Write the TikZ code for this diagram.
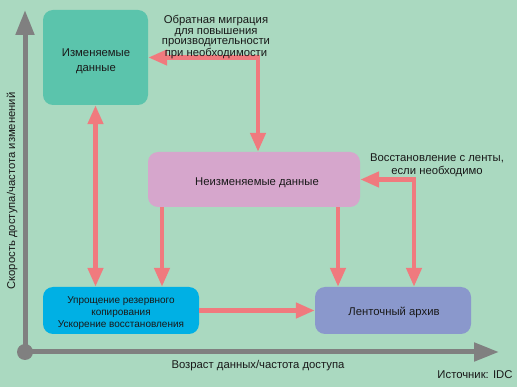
\documentclass[tikz,border=0pt]{standalone}
\usepackage{fontspec}
\setmainfont{Liberation Sans}
\usetikzlibrary{arrows.meta}
\definecolor{bg}{RGB}{170,217,192}
\definecolor{redar}{RGB}{240,122,126}
\definecolor{tealbox}{RGB}{91,196,172}
\definecolor{lilacbox}{RGB}{214,166,204}
\definecolor{cyanbox}{RGB}{0,176,228}
\definecolor{perbox}{RGB}{138,152,204}
\definecolor{axisgray}{RGB}{128,128,128}
\definecolor{txt}{RGB}{25,25,25}
\tikzset{
  box/.style={rounded corners=10pt, inner sep=0pt},
  redarrow/.style={draw=redar, line width=4.5pt,
    arrows={-Triangle[width=15pt,length=19pt]}},
  redboth/.style={draw=redar, line width=4.5pt,
    arrows={Triangle[width=15pt,length=19pt]-Triangle[width=15pt,length=19pt]}},
  axisline/.style={draw=axisgray, line width=5pt,
    arrows={-Triangle[width=18pt,length=25pt]}},
  lbl/.style={text=txt, align=center, inner sep=0pt,
    font=\fontsize{11.3}{13}\selectfont}
}
\begin{document}
\begin{tikzpicture}[x=1pt,y=-1pt]
\useasboundingbox (0,0) rectangle (517,387);
\fill[bg] (0,0) rectangle (517,387);
% axes
\coordinate (o) at (25,352);
\coordinate (ytop) at (25,10);
\coordinate (xend) at (499,352);
\draw[axisline] (o) -- (ytop);
\draw[axisline] (o) -- (xend);
\fill[axisgray] (o) circle (8);
% boxes
\node[box, fill=tealbox, minimum width=105pt, minimum height=95pt] (izm) at (95.5,57.5) {};
\node[box, fill=lilacbox, minimum width=212pt, minimum height=55pt] (neizm) at (254,179.5) {};
\node[box, fill=cyanbox, minimum width=156pt, minimum height=47pt] (upr) at (121,310.5) {};
\node[box, fill=perbox, minimum width=156pt, minimum height=47pt] (lent) at (393,310.5) {};
% box texts
\node[lbl, font=\fontsize{11.3}{15}\selectfont] (izmt) at (96,61) {Изменяемые\\данные};
\node[lbl] (neizmt) at (257,183) {Неизменяемые данные};
\node[lbl, font=\fontsize{10}{12.3}\selectfont] (uprt) at (121,313) {Упрощение резервного\\копирования\\Ускорение восстановления};
\node[lbl] (lentt) at (394,312.5) {Ленточный архив};
% helper x positions
\coordinate (c1) at (162,0);
\coordinate (c2) at (338,0);
\coordinate (c4) at (414,0);
\coordinate (c6) at (258,0);
% arrows
\draw[redboth] (izm.south) -- (upr.north -| izm.south);
\draw[redarrow] (neizm.south -| c1) -- (upr.north -| c1);
\draw[redarrow] (upr.east) -- (lent.west);
\draw[redarrow] (neizm.south -| c2) -- (lent.north -| c2);
\draw[redboth] (neizm.east) -| (lent.north -| c4);
\draw[redboth] (izm.east) -| (neizm.north -| c6);
% labels
\node[lbl, font=\fontsize{11.3}{10.6}\selectfont] (mig) at (216,37)
  {Обратная миграция\\для повышения\\производительности\\при необходимости};
\node[lbl] (rest) at (437,165)
  {Восстановление с ленты,\\если необходимо};
\node[lbl, rotate=90] (ylab) at (12,191)
  {Скорость доступа/частота изменений};
\node[lbl] (xlab) at (258,366)
  {Возраст данных/частота доступа};
\node[lbl] (src) at (475,375)
  {Источник: IDC};
\end{tikzpicture}
\end{document}
